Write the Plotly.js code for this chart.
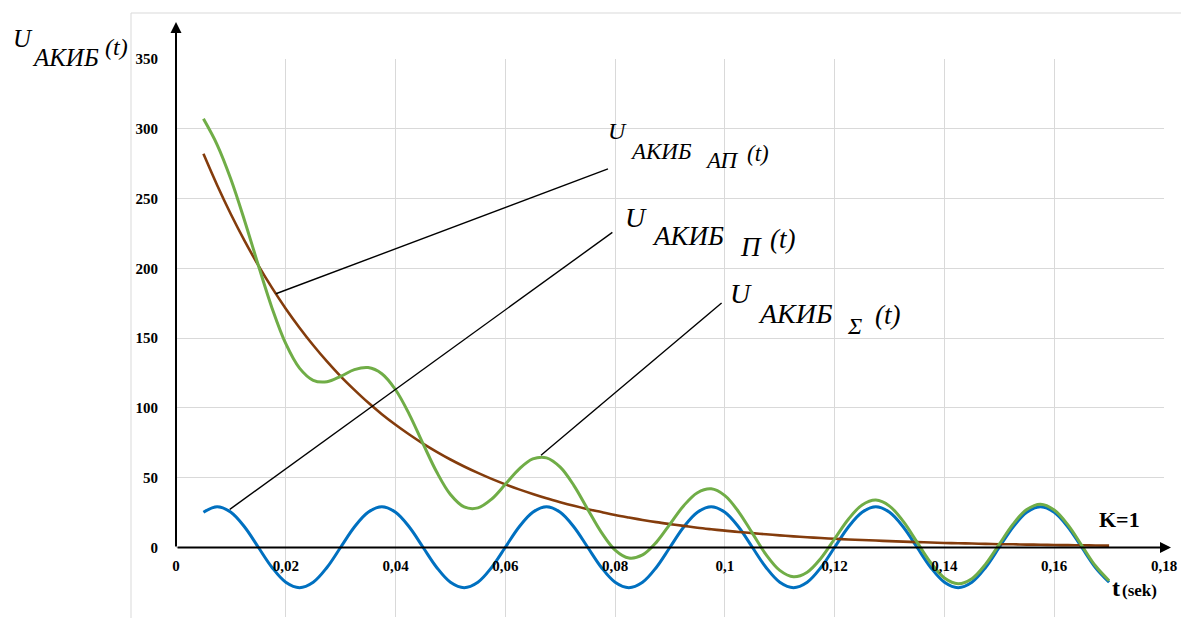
<!DOCTYPE html>
<html>
<head>
<meta charset="utf-8">
<script src="https://cdn.plot.ly/plotly-3.0.1.min.js"></script>
<style>html,body{margin:0;padding:0;background:#fff;}#chart{width:1181px;height:618px;}</style>
</head>
<body>
<div id="chart"></div>
<script>
// time, seconds
const tSec = [0.005,0.0075,0.01,0.0125,0.015,0.0175,0.02,0.0225,0.025,0.0275,
  0.03,0.0325,0.035,0.0375,0.04,0.0425,0.045,0.0475,0.05,0.0525,
  0.055,0.0575,0.06,0.0625,0.065,0.0675,0.07,0.0725,0.075,0.0775,
  0.08,0.0825,0.085,0.0875,0.09,0.0925,0.095,0.0975,0.1,0.1025,
  0.105,0.1075,0.11,0.1125,0.115,0.1175,0.12,0.1225,0.125,0.1275,
  0.13,0.1325,0.135,0.1375,0.14,0.1425,0.145,0.1475,0.15,0.1525,
  0.155,0.1575,0.16,0.1625,0.165,0.1675,0.17];
// U_AKIB_AP(t) (brown)
const uAP = [282,259.5,238.7,219.6,202.1,185.9,171.0,157.4,144.8,133.2,
  122.5,112.8,103.7,95.4,87.8,80.8,74.3,68.4,62.9,57.9,
  53.3,49.0,45.1,41.5,38.2,35.1,32.3,29.7,27.3,25.2,
  23.1,21.3,19.6,18.0,16.6,15.3,14.0,12.9,11.9,10.9,
  10.1,9.3,8.5,7.8,7.2,6.6,6.1,5.6,5.2,4.8,
  4.4,4.0,3.7,3.4,3.1,2.9,2.7,2.4,2.2,2.1,
  1.9,1.8,1.6,1.5,1.4,1.3,1.2];
// U_AKIB_P(t) (blue)
const uP = [25.1,29,25.1,14.5,0,-14.5,-25.1,-29,-25.1,-14.5,
  0,14.5,25.1,29,25.1,14.5,0,-14.5,-25.1,-29,
  -25.1,-14.5,0,14.5,25.1,29,25.1,14.5,0,-14.5,
  -25.1,-29,-25.1,-14.5,0,14.5,25.1,29,25.1,14.5,
  0,-14.5,-25.1,-29,-25.1,-14.5,0,14.5,25.1,29,
  25.1,14.5,0,-14.5,-25.1,-29,-25.1,-14.5,0,14.5,
  25.1,29,25.1,14.5,0,-14.5,-25.1];
// U_AKIB_Sigma(t) (green)
const uSum = [307.1,288.5,263.8,234.1,202.1,171.4,145.9,128.4,119.7,118.7,
  122.5,127.3,128.8,124.4,112.9,95.3,74.3,53.9,37.8,28.9,
  28.2,34.5,45.1,56.0,63.3,64.1,57.4,44.2,27.3,10.7,
  -2.0,-7.7,-5.5,3.5,16.6,29.8,39.1,41.9,37.0,25.4,
  10.1,-5.3,-16.6,-21.2,-17.9,-7.9,6.1,20.1,30.3,33.8,
  29.5,18.5,3.7,-11.1,-22.0,-26.1,-22.5,-12.1,2.2,16.6,
  27.0,30.8,26.7,16.0,1.4,-13.3,-24.0];

const xTickVals = [0,0.02,0.04,0.06,0.08,0.1,0.12,0.14,0.16,0.18];
const xTickText = ['0','0,02','0,04','0,06','0,08','0,1','0,12','0,14','0,16','0,18'];
const yTickVals = [-50,0,50,100,150,200,250,300,350];
const yTickText = ['','0','50','100','150','200','250','300','350'];

// callout anchors (curve point -> label)
const callouts = [
  {x0:0.0182, y0:181.7, x1:0.0787, y1:271.2},
  {x0:0.0098, y0:27.2,  x1:0.0795, y1:225.7},
  {x0:0.0665, y0:65.9,  x1:0.0994, y1:175.1}
];

// layout helpers: pixel -> paper
const L = 176, R = 1164, T = 59, B = 617;
const px2x = p => (p - L) / (R - L);
const py2y = p => (B - p) / (B - T);

const serif = 'Liberation Serif';
const tickFont = {family: serif, size: 15, color: '#000', weight: 'bold'};

const traces = [
  {x: tSec, y: uP, type: 'scatter', mode: 'lines', line: {color: '#0070C0', width: 3, shape: 'spline', smoothing: 1}, name: 'П', cliponaxis: false},
  {x: tSec, y: uAP, type: 'scatter', mode: 'lines', line: {color: '#843C0C', width: 2.6, shape: 'spline', smoothing: 1}, name: 'АП', cliponaxis: false},
  {x: tSec, y: uSum, type: 'scatter', mode: 'lines', line: {color: '#70AD47', width: 3, shape: 'spline', smoothing: 1}, name: 'Σ', cliponaxis: false}
];

function txt(t, leftPx, midPy, size, style) {
  return {text: t, xref: 'paper', yref: 'paper', x: px2x(leftPx), y: py2y(midPy),
    xanchor: 'left', yanchor: 'middle', showarrow: false,
    font: {family: serif, size: size, color: '#000',
      style: style === 'i' ? 'italic' : 'normal',
      weight: style === 'b' ? 'bold' : 'normal'}};
}

const annotations = [
  // axis arrows
  {text: '', xref: 'paper', yref: 'paper', x: px2x(176), y: py2y(22), ax: 0, ay: 548 - 22,
   axref: 'pixel', ayref: 'pixel', showarrow: true, arrowhead: 2, arrowsize: 1.1, arrowwidth: 2, arrowcolor: '#000'},
  {text: '', xref: 'paper', yref: 'paper', x: px2x(1171), y: py2y(547.5), ax: -(1171 - 176), ay: 0,
   axref: 'pixel', ayref: 'pixel', showarrow: true, arrowhead: 2, arrowsize: 1.1, arrowwidth: 2, arrowcolor: '#000'},
  // y title
  txt('U', 11, 38, 25, 'i'), txt('АКИБ', 30, 57, 25, 'i'), txt('(t)', 103, 47, 24, 'i'),
  // label AP
  txt('U', 606, 131, 24, 'i'), txt('АКИБ', 628, 151, 23, 'i'), txt('АП', 703, 160, 23, 'i'), txt('(t)', 745, 153, 23, 'i'),
  // label P
  txt('U', 623, 218, 28, 'i'), txt('АКИБ', 650, 236, 27, 'i'), txt('П', 738, 247, 27, 'i'), txt('(t)', 768, 239, 27, 'i'),
  // label Sigma
  txt('U', 728, 293, 28, 'i'), txt('АКИБ', 756, 313, 28, 'i'), txt('Σ', 845, 326, 24, 'i'), txt('(t)', 873, 315, 27, 'i'),
  // K=1 and t(sek)
  txt('K=1', 1097, 519, 22, 'b'),
  txt('t', 1110, 588, 24, 'b'), txt('(sek)', 1120, 590, 17, 'b')
];

const shapes = [
  // chart-area border (left and top)
  {type: 'line', xref: 'paper', yref: 'paper', x0: px2x(131), x1: px2x(131), y0: py2y(13), y1: py2y(640), line: {color: '#d9d9d9', width: 1}},
  {type: 'line', xref: 'paper', yref: 'paper', x0: px2x(131), x1: px2x(1200), y0: py2y(13), y1: py2y(13), line: {color: '#d9d9d9', width: 1}}
].concat(callouts.map(c => ({type: 'line', xref: 'x', yref: 'y', x0: c.x0, y0: c.y0, x1: c.x1, y1: c.y1,
  line: {color: '#000', width: 1.4}, layer: 'above'})));

const layout = {
  width: 1181, height: 618,
  margin: {l: L, r: 1181 - R, t: T, b: 618 - B, pad: 0},
  paper_bgcolor: '#fff', plot_bgcolor: '#fff',
  showlegend: false,
  font: {family: serif},
  xaxis: {range: [0, 0.18], tickmode: 'array', tickvals: xTickVals, ticktext: xTickText,
    showgrid: true, gridcolor: '#d9d9d9', gridwidth: 1, zeroline: false, showline: false,
    anchor: 'free', position: 0.125, ticks: 'outside', ticklen: 5, tickcolor: 'rgba(0,0,0,0)',
    tickfont: tickFont, automargin: false},
  yaxis: {range: [-50, 350], tickmode: 'array', tickvals: yTickVals, ticktext: yTickText,
    showgrid: true, gridcolor: '#d9d9d9', gridwidth: 1, zeroline: false, showline: false,
    ticks: 'outside', ticklen: 14, tickcolor: 'rgba(0,0,0,0)', tickfont: tickFont, automargin: false},
  annotations: annotations,
  shapes: shapes
};

Plotly.newPlot('chart', traces, layout, {displayModeBar: false, staticPlot: true});
</script>
</body>
</html>
